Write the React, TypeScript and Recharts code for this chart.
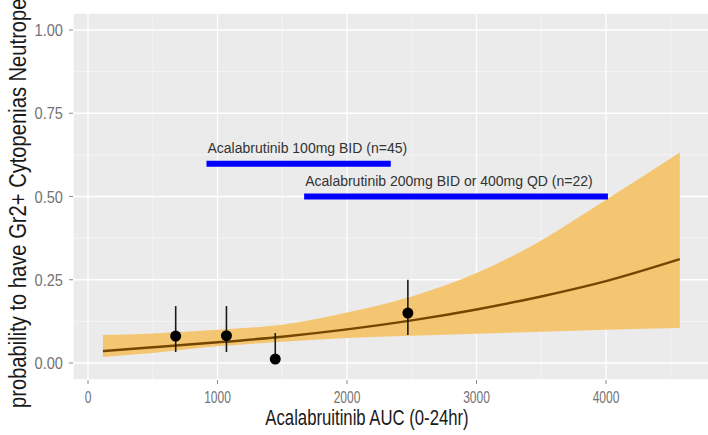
import {
  ComposedChart,
  Area,
  Line,
  Scatter,
  ErrorBar,
  XAxis,
  YAxis,
  CartesianGrid,
  ReferenceLine,
} from 'recharts'

// model fit and 95% band
const auc = [115, 500, 1000, 1500, 2000, 2500, 3000, 3500, 4000, 4570]
const fitProb = [0.036, 0.047, 0.062, 0.079, 0.101, 0.128, 0.161, 0.2, 0.246, 0.312]
const lowerCI = [0.018, 0.03, 0.05, 0.064, 0.075, 0.082, 0.088, 0.094, 0.1, 0.105]
const upperCI = [0.084, 0.089, 0.1, 0.115, 0.152, 0.2, 0.27, 0.368, 0.49, 0.632]

// observed rates by AUC bin
const obsAuc = [677, 1069, 1446, 2470]
const obsProb = [0.081, 0.082, 0.012, 0.15]
const obsLow = [0.033, 0.033, 0.005, 0.084]
const obsHigh = [0.171, 0.171, 0.09, 0.25]

// dose exposure ranges
const doseLabels = ['Acalabrutinib 100mg BID (n=45)', 'Acalabrutinib 200mg BID or 400mg QD (n=22)']
const doseStart = [915, 1669]
const doseEnd = [2338, 4015]
const doseLevel = [0.598, 0.5]

const xTicks = [0, 1000, 2000, 3000, 4000]
const yTicks = [0, 0.25, 0.5, 0.75, 1]
const xMinor = [-500, 500, 1500, 2500, 3500, 4500]
const yMinor = [0.125, 0.375, 0.625, 0.875]

const X_DOMAIN = [-116, 4811]
const Y_DOMAIN = [-0.051, 1.051]

const fitData = auc.map((x, i) => ({
  x,
  fit: fitProb[i],
  band: [lowerCI[i], upperCI[i]],
}))

const obsData = obsAuc.map((x, i) => ({
  x,
  y: obsProb[i],
  err: [obsProb[i] - obsLow[i], obsHigh[i] - obsProb[i]],
}))

const FONT = '"Liberation Sans", Arial, sans-serif'
const TICK_COLOR = '#737373'

const XTick = (props: any) => {
  const { x, y, payload } = props
  return (
    <text
      transform={`translate(${x},${y}) scale(0.75,1)`}
      textAnchor="middle"
      dy={17}
      fontSize={16}
      fontFamily={FONT}
      fill={TICK_COLOR}
    >
      {payload.value}
    </text>
  )
}

const YTick = (props: any) => {
  const { x, y, payload } = props
  return (
    <text
      transform={`translate(${x},${y}) scale(0.86,1)`}
      textAnchor="end"
      dy={6}
      fontSize={17}
      fontFamily={FONT}
      fill={TICK_COLOR}
    >
      {payload.value.toFixed(2)}
    </text>
  )
}

const XTitle = (props: any) => {
  const vb = props.viewBox
  return (
    <text
      transform={`translate(${vb.x + 294},${vb.y + 45}) scale(0.76,1)`}
      textAnchor="middle"
      fontSize={22}
      fontFamily={FONT}
      fill="#1a1a1a"
    >
      Acalabruitinib AUC (0-24hr)
    </text>
  )
}

const YTitle = (props: any) => {
  const vb = props.viewBox
  return (
    <text
      transform={`translate(${vb.x + 26},${vb.y + vb.height + 28}) rotate(-90) scale(0.84,1)`}
      textAnchor="start"
      fontSize={24}
      fontFamily={FONT}
      fill="#1a1a1a"
    >
      probability to have Gr2+ Cytopenias Neutropenia
    </text>
  )
}

const DoseLabel = (props: any) => {
  const vb = props.viewBox
  return (
    <text x={vb.x + 1} y={vb.y - 11} fontSize={14} fontFamily={FONT} fill="#333">
      {props.text}
    </text>
  )
}

const Dot = (props: any) => <circle cx={props.cx} cy={props.cy} r={5.5} fill="#000" />

// minor grid positions inside the plot panel
const minorY = ({ offset }: any) =>
  yMinor.map((v) => offset.top + ((Y_DOMAIN[1] - v) / (Y_DOMAIN[1] - Y_DOMAIN[0])) * offset.height)
const minorX = ({ offset }: any) =>
  xMinor.map((v) => offset.left + ((v - X_DOMAIN[0]) / (X_DOMAIN[1] - X_DOMAIN[0])) * offset.width)

export default function App() {
  return (
    <div style={{ position: 'fixed', left: 0, top: 0, width: 708, height: 435, overflow: 'hidden', background: '#fff' }}>
      <ComposedChart
        width={720}
        height={435}
        data={fitData}
        margin={{ top: 13, right: 9, bottom: 0, left: 0 }}
      >
        {/* minor grid + panel */}
        <CartesianGrid
          fill="#ebebeb"
          stroke="#f6f6f6"
          strokeWidth={0.8}
          horizontalCoordinatesGenerator={minorY}
          verticalCoordinatesGenerator={minorX}
        />
        {/* major grid */}
        <CartesianGrid stroke="#ffffff" strokeWidth={1.3} />
        <XAxis
          dataKey="x"
          type="number"
          domain={X_DOMAIN}
          allowDataOverflow
          ticks={xTicks}
          tick={<XTick />}
          tickSize={4}
          tickMargin={2}
          tickLine={{ stroke: '#8a8a8a' }}
          axisLine={false}
          height={55}
          label={<XTitle />}
        />
        <YAxis
          type="number"
          domain={Y_DOMAIN}
          allowDataOverflow
          ticks={yTicks}
          tick={<YTick />}
          tickSize={4}
          tickMargin={6}
          tickLine={{ stroke: '#8a8a8a' }}
          axisLine={false}
          width={73}
          label={<YTitle />}
        />
        <Area
          type="monotone"
          dataKey="band"
          stroke="none"
          fill="#f5c672"
          fillOpacity={1}
          isAnimationActive={false}
        />
        <Line
          type="monotone"
          dataKey="fit"
          stroke="#744700"
          strokeWidth={2.5}
          dot={false}
          isAnimationActive={false}
        />
        {doseLabels.map((name, i) => (
          <ReferenceLine
            key={name}
            segment={[
              { x: doseStart[i], y: doseLevel[i] },
              { x: doseEnd[i], y: doseLevel[i] },
            ]}
            stroke="#0000ff"
            strokeWidth={6}
            label={<DoseLabel text={name} />}
          />
        ))}
        <Scatter data={obsData} dataKey="y" shape={<Dot />} isAnimationActive={false}>
          <ErrorBar dataKey="err" direction="y" width={0} stroke="#1a1a1a" strokeWidth={1.6} />
        </Scatter>
      </ComposedChart>
    </div>
  )
}
